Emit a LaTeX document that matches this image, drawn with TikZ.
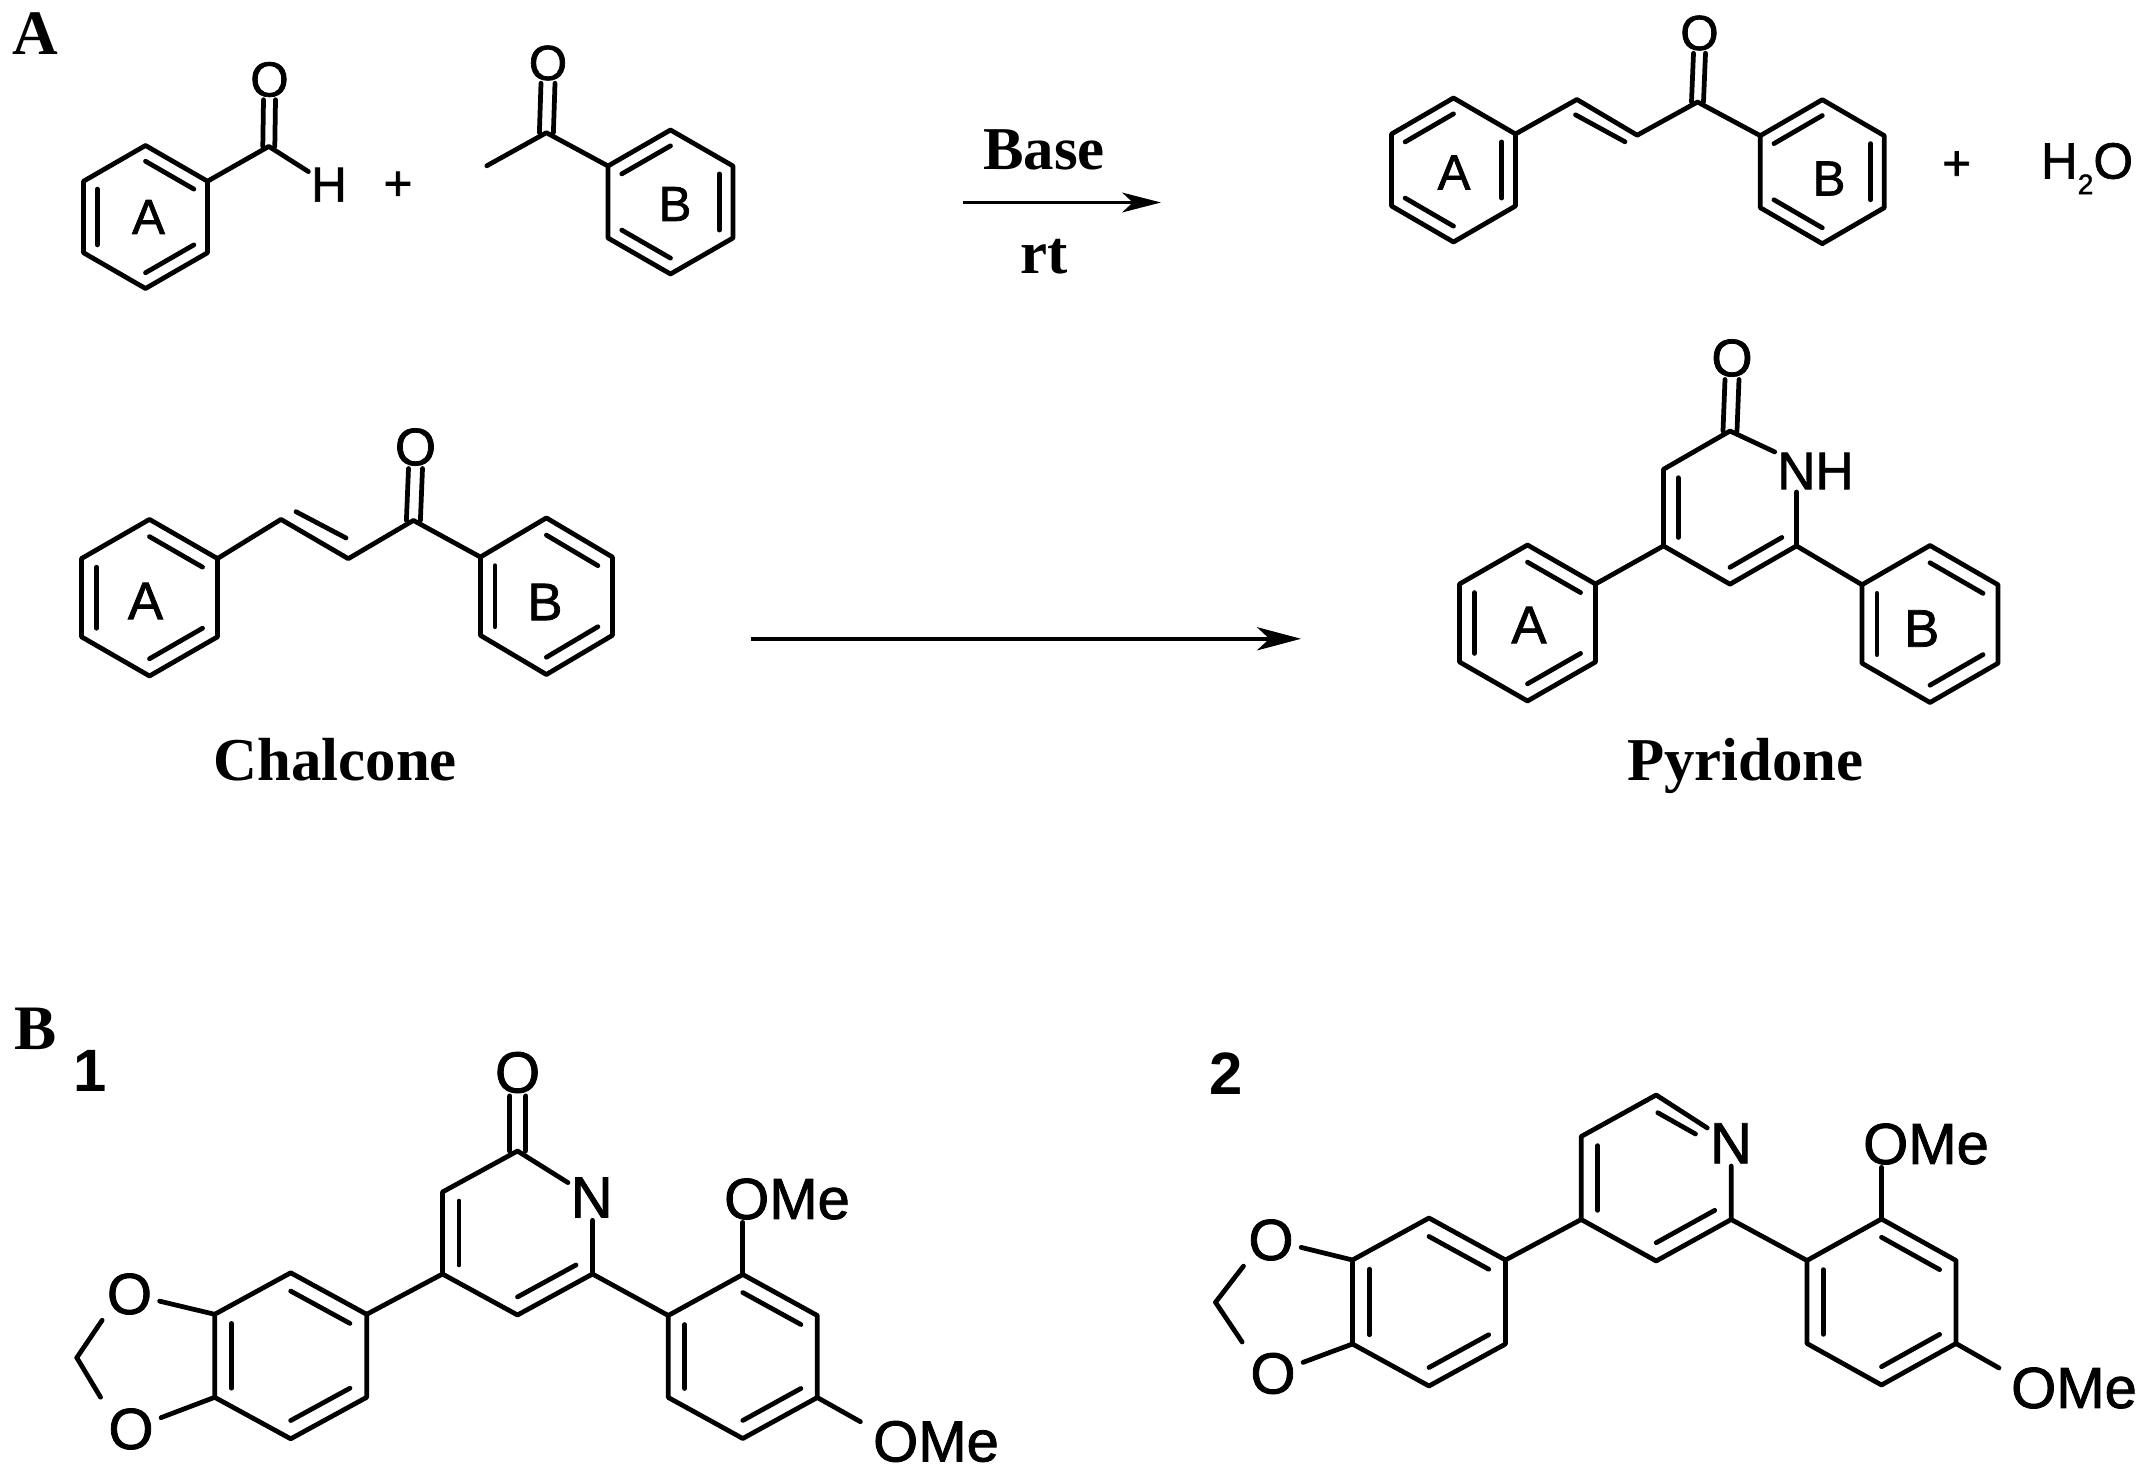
\documentclass[tikz,border=0pt]{standalone}
\usepackage{fontspec}
\setmainfont{Liberation Serif}
\newfontfamily\atomfont[FakeBold=1.4]{Liberation Sans}
\newfontfamily\numberfont{Liberation Sans}
\usetikzlibrary{calc,arrows.meta}
\newcommand{\hexpts}[5]{
\coordinate (#1c) at (#2,#3);
\coordinate (#11) at (#2,#3-#5);
\coordinate (#12) at (#2+#4,#3-#5/2);
\coordinate (#13) at (#2+#4,#3+#5/2);
\coordinate (#14) at (#2,#3+#5);
\coordinate (#15) at (#2-#4,#3+#5/2);
\coordinate (#16) at (#2-#4,#3-#5/2);
}
\newcommand{\hexring}[5]{
\hexpts{#1}{#2}{#3}{#4}{#5}
\draw[bond] (#11) -- (#12) -- (#13) -- (#14) -- (#15) -- (#16) -- cycle;
}
\newcommand{\innerbond}[3]{\draw[bond] ($(#1c)!0.78!(#1#2)$) -- ($(#1c)!0.78!(#1#3)$);}
\newcommand{\cobond}[3]{
\draw[bond] ([xshift=-#3*0.01cm]#1) -- ([xshift=-#3*0.01cm]#2.south);
\draw[bond] ([xshift=#3*0.01cm]#1) -- ([xshift=#3*0.01cm]#2.south);
}
\tikzset{
bond/.style={line width=1.35pt, line cap=round, line join=round, black},
rxnarrow/.style={line width=1.05pt, -{Stealth[length=11pt,width=5.6pt,inset=3pt]}},
rxnlong/.style={line width=1.05pt, -{Stealth[length=12.5pt,width=6.6pt,inset=3.5pt]}},
atom/.style={font=\atomfont\fontsize{14}{16}\selectfont, inner sep=.6pt},
atommid/.style={font=\atomfont\fontsize{15}{17}\selectfont, inner sep=.6pt},
atombig/.style={font=\atomfont\fontsize{16.5}{18}\selectfont, inner sep=.6pt},
caption/.style={font=\fontsize{17.3}{20}\selectfont\bfseries, inner sep=0pt, anchor=base},
panel/.style={font=\fontsize{18}{20}\selectfont\bfseries, inner sep=0pt, anchor=base},
number/.style={font=\numberfont\fontsize{17}{20}\selectfont\bfseries, inner sep=0pt, anchor=base},
}
\begin{document}
\begin{tikzpicture}[x=0.01cm,y=-0.01cm]
\useasboundingbox (0,0) rectangle (2150,1476);
\node[panel] (panelA) at (35,55) {A};
\node[panel] (panelB) at (35.5,1049) {B};
\node[number] (numA) at (90,1091.5) {1};
\node[number] (numB) at (1226.5,1094) {2};

% aldehyde + ketone
\hexring{ra}{145.5}{217}{62}{71.5}
\foreach \i/\j in {1/2,3/4,5/6} {\innerbond{ra}{\i}{\j}}
\node[atom] (labA1) at (148.5,217) {A};
\coordinate (cAld) at (268.8,146.4);
\node[atom] (oAld) at (269.5,79.5) {O};
\node[atom] (hAld) at (329,184.7) {H};
\draw[bond] (ra2) -- (cAld) -- (hAld);
\cobond{cAld}{oAld}{6}
\node[atom] (plusA) at (398,186) {+};
\hexring{rb}{670.5}{202}{62.5}{72}
\foreach \i/\j in {6/1,2/3,4/5} {\innerbond{rb}{\i}{\j}}
\node[atom] (labB1) at (675,204) {B};
\coordinate (cMe) at (486.8,165.8);
\coordinate (cKet) at (546.4,132.7);
\node[atom] (oKet) at (548,63) {O};
\draw[bond] (cMe) -- (cKet) -- (rb6);
\cobond{cKet}{oKet}{7}

% base arrow
\coordinate (baseL) at (963,202.5);
\coordinate (baseR) at (1161,202.5);
\draw[rxnarrow] (baseL) -- (baseR);
\node[caption] (base) at (1044,170) {Base};
\node[caption] (rt) at (1044,274) {rt};

% product
\hexring{pa}{1453.5}{170}{62}{72}
\foreach \i/\j in {6/1,2/3,4/5} {\innerbond{pa}{\i}{\j}}
\node[atom] (labA2) at (1454,172.5) {A};
\hexring{pb}{1822.3}{171.7}{62}{72}
\foreach \i/\j in {6/1,2/3,4/5} {\innerbond{pb}{\i}{\j}}
\node[atom] (labB2) at (1829,178.5) {B};
\coordinate (pc1) at (1576.9,99.5);
\coordinate (pc2) at (1637.2,135.2);
\coordinate (pc3) at (1697.5,102);
\coordinate (pd1) at (1575.5,114.8);
\coordinate (pd2) at (1625,141.8);
\node[atom] (oPro) at (1699.5,33) {O};
\draw[bond] (pa2) -- (pc1) -- (pc2) -- (pc3) -- (pb6);
\draw[bond] (pd1) -- (pd2);
\cobond{pc3}{oPro}{6}
\node[atom] (plusB) at (1956.7,165.8) {+};
\node[atom, anchor=base, inner sep=0pt, font=\atomfont\fontsize{14.5}{16}\selectfont] (water) at (2087,178.6) {H\raisebox{-4.4pt}{\fontsize{8}{8}\selectfont 2}O};

% chalcone
\hexring{ca}{149.5}{597.7}{68}{78.3}
\foreach \i/\j in {1/2,3/4,5/6} {\innerbond{ca}{\i}{\j}}
\node[atommid] (labA3) at (145.5,601) {A};
\hexring{cb}{546.4}{596.2}{66}{78.3}
\foreach \i/\j in {1/2,3/4,5/6} {\innerbond{cb}{\i}{\j}}
\node[atommid] (labB3) at (545,602) {B};
\coordinate (cc1) at (281,519.4);
\coordinate (cc2) at (348.3,558.7);
\coordinate (cc3) at (413.4,520.4);
\coordinate (cd1) at (296,511.7);
\coordinate (cd2) at (346,538);
\node[atommid] (oCha) at (415.5,447) {O};
\draw[bond] (ca2) -- (cc1) -- (cc2) -- (cc3) -- (cb6);
\draw[bond] (cd1) -- (cd2);
\cobond{cc3}{oCha}{7}
\node[caption] (chalcone) at (335.3,780) {Chalcone};

% long arrow
\coordinate (longL) at (751,638.8);
\coordinate (longR) at (1301,638.8);
\draw[rxnlong] (longL) -- (longR);

% pyridone
\hexpts{ya}{1730}{507.6}{66.5}{76.6}
\node[atommid] (nh) at (1815.5,471) {NH};
\node[atommid] (oPyr) at (1732,358) {O};
\draw[bond] (nh) -- (ya1) -- (ya6) -- (ya5) -- (ya4) -- (ya3) -- (ya3 |- nh.south);
\foreach \i/\j in {5/6,3/4} {\innerbond{ya}{\i}{\j}}
\cobond{ya1}{oPyr}{7}
\hexring{yb}{1527.5}{623}{68}{78}
\foreach \i/\j in {1/2,3/4,5/6} {\innerbond{yb}{\i}{\j}}
\node[atommid] (labA4) at (1529,625) {A};
\hexring{yc}{1930}{624}{68}{78.5}
\foreach \i/\j in {1/2,3/4,5/6} {\innerbond{yc}{\i}{\j}}
\node[atommid] (labB4) at (1921.7,628.5) {B};
\draw[bond] (yb2) -- (ya5);
\draw[bond] (yc6) -- (ya3);
\node[caption] (pyridone) at (1745.5,780) {Pyridone};

% compound 1
\hexpts{fa}{517.5}{1233}{75}{82}
\node[atombig] (nFa) at (591.7,1197.5) {N};
\node[atombig] (oFa) at (517.6,1072.5) {O};
\draw[bond] (nFa) -- (fa1) -- (fa6) -- (fa5) -- (fa4) -- (fa3) -- (fa3 |- nFa.south);
\foreach \i/\j in {5/6,3/4} {\innerbond{fa}{\i}{\j}}
\cobond{fa1}{oFa}{8}
\hexring{fb}{290.7}{1355.8}{76}{83}
\foreach \i/\j in {1/2,3/4,5/6} {\innerbond{fb}{\i}{\j}}
\draw[bond] (fb2) -- (fa5);
\node[atombig] (oFt) at (129.5,1294) {O};
\node[atombig] (oFb) at (131,1429) {O};
\coordinate (chF) at (76.8,1357.7);
\draw[bond, shorten >=1.4pt] (fb6) -- (oFt);
\draw[bond, shorten >=1.4pt] (fb5) -- (oFb);
\draw[bond, shorten >=1pt] (chF) -- (oFt.south west);
\draw[bond, shorten >=2.8pt] (chF) -- (oFb.north west);
\hexring{fc}{742.8}{1356.5}{74.5}{82}
\foreach \i/\j in {1/2,3/4,5/6} {\innerbond{fc}{\i}{\j}}
\draw[bond] (fc6) -- (fa3);
\node[atombig] (meFt) at (787,1199) {OMe};
\node[atombig] (meFb) at (936,1441.5) {OMe};
\coordinate (endF) at (860.4,1421.7);
\draw[bond] (fc1) -- (fc1 |- meFt.south);
\draw[bond] (fc3) -- (endF);

% compound 2
\hexpts{ga}{1656.2}{1178}{75}{83}
\node[atombig] (nGa) at (1731,1143.3) {N};
\coordinate (gd1) at (1657.8,1112.7);
\coordinate (gd2) at (1695.5,1134);
\draw[bond] (nGa) -- (ga1) -- (ga6) -- (ga5) -- (ga4) -- (ga3) -- (ga3 |- nGa.south);
\draw[bond] (gd1) -- (gd2);
\foreach \i/\j in {5/6,3/4} {\innerbond{ga}{\i}{\j}}
\hexring{gb}{1429}{1302}{76.5}{84}
\foreach \i/\j in {1/2,3/4,5/6} {\innerbond{gb}{\i}{\j}}
\draw[bond] (gb2) -- (ga5);
\node[atombig] (oGt) at (1271,1240) {O};
\node[atombig] (oGb) at (1273,1373.5) {O};
\coordinate (chG) at (1215.5,1302.3);
\draw[bond, shorten >=1.4pt] (gb6) -- (oGt);
\draw[bond, shorten >=1.4pt] (gb5) -- (oGb);
\draw[bond, shorten >=1pt] (chG) -- (oGt.south west);
\draw[bond, shorten >=2.8pt] (chG) -- (oGb.north west);
\hexring{gc}{1881.5}{1302}{74.5}{83}
\foreach \i/\j in {1/2,3/4,5/6} {\innerbond{gc}{\i}{\j}}
\draw[bond] (gc6) -- (ga3);
\node[atombig] (meGt) at (1926,1144) {OMe};
\node[atombig] (meGb) at (2074,1388) {OMe};
\coordinate (endG) at (1999,1368);
\draw[bond] (gc1) -- (gc1 |- meGt.south);
\draw[bond] (gc3) -- (endG);
\end{tikzpicture}
\end{document}
